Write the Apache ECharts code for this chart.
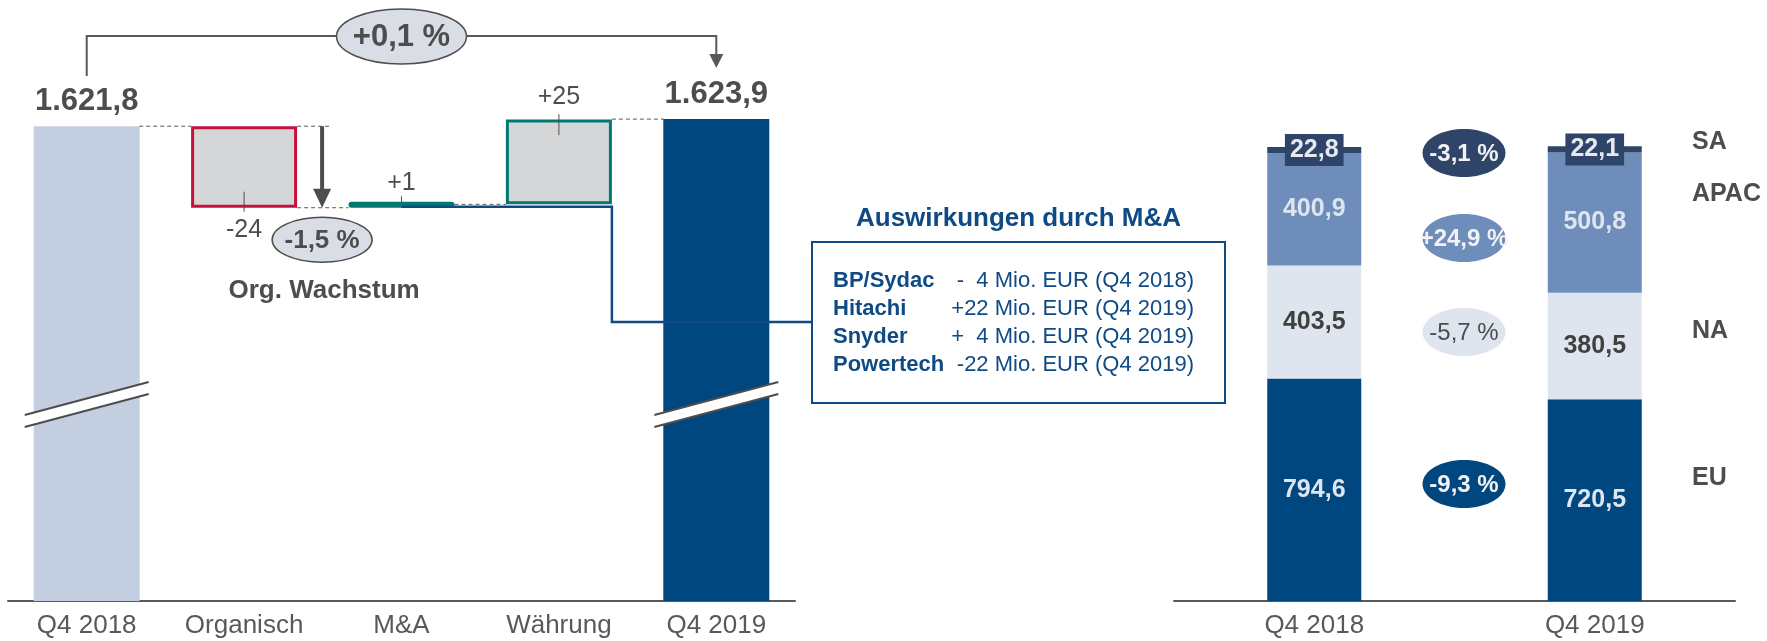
<!DOCTYPE html>
<html>
<head>
<meta charset="utf-8">
<title>Umsatz Q4 2019</title>
<script src="https://cdn.jsdelivr.net/npm/echarts@6.0.0/dist/echarts.min.js"></script>
<style>
  html, body { margin: 0; padding: 0; background: #fff; }
  #main { width: 1767px; height: 641px; }
</style>
</head>
<body>
<div id="main"></div>
<script>
// Brücke Q4 2018 -> Q4 2019 (Mio. EUR)
var bridgeCats = ['Q4 2018', 'Organisch', 'M&A', 'Währung', 'Q4 2019'];
var startValue = 1621.8;
var bridgeDeltas = [-24, 1, 25];
var endValue = 1623.9;

// Regionen
var regionCats = ['Q4 2018', 'Q4 2019'];
var euValues = [794.6, 720.5];
var naValues = [403.5, 380.5];
var apacValues = [400.9, 500.8];
var saValues = [22.8, 22.1];

// Auswirkungen durch M&A
var maNames = ['BP/Sydac', 'Hitachi', 'Snyder', 'Powertech'];
var maValues = [-4, 22, 4, -22];
var maPeriods = ['Q4 2018', 'Q4 2019', 'Q4 2019', 'Q4 2019'];

var FONT = "'Liberation Sans', Arial, sans-serif";
var GREY = '#4d4d4d';
var BLUE = '#0f4a85';

function fmtDe(v, d) {
  var s = Math.abs(v).toFixed(d).split('.');
  var i = s[0].replace(/\B(?=(\d{3})+(?!\d))/g, '.');
  return (v < 0 ? '-' : '') + i + (d ? ',' + s[1] : '');
}
function fmtPct(v) {
  return (v >= 0 ? '+' : '') + fmtDe(v, 1) + ' %';
}

// waterfall: transparent base + visible part
var bases = ['-'];
var wfVals = [startValue];
var wfLabels = [fmtDe(startValue, 1)];
var run = startValue;
bridgeDeltas.forEach(function (d) {
  bases.push(d < 0 ? run + d : run);
  wfVals.push(Math.abs(d));
  wfLabels.push((d > 0 ? '+' : '') + d);
  run += d;
});
bases.push('-');
wfVals.push(endValue);
wfLabels.push(fmtDe(endValue, 1));

var wfStyles = [
  { color: '#c3cfe0' },
  { color: '#d5d6d8', borderColor: '#c8103f', borderWidth: 3 },
  { color: '#007a6e', borderRadius: 3 },
  { color: '#d5d6d8', borderColor: '#007a6e', borderWidth: 3 },
  { color: '#00467f' }
];
var wfLabelStyles = [
  { position: 'top', distance: 9, fontSize: 31, fontWeight: 'bold' },
  { position: 'bottom', distance: 10, fontSize: 25 },
  { position: 'top', distance: 6, fontSize: 25 },
  { position: 'top', distance: 10, fontSize: 25 },
  { position: 'top', distance: 9, fontSize: 31, fontWeight: 'bold' }
];

var chart = echarts.init(document.getElementById('main'));

var xLabel = { fontSize: 26, color: '#595959', fontFamily: FONT, margin: 12 };
var axisLine = { lineStyle: { color: '#595959', width: 2 } };

function regionSeries(name, values, color, labelColor, extraLabel) {
  var label = {
    show: true, position: 'inside', color: labelColor,
    fontSize: 25, fontWeight: 'bold', fontFamily: FONT,
    formatter: function (p) { return fmtDe(p.value, 1); }
  };
  if (extraLabel) Object.assign(label, extraLabel);
  return {
    name: name, type: 'bar', stack: 'reg', xAxisIndex: 1, yAxisIndex: 1,
    barWidth: 94, data: values, itemStyle: { color: color },
    label: label, silent: true
  };
}

chart.setOption({
  animation: false,
  textStyle: { fontFamily: FONT },
  grid: [
    { left: 8, width: 787, top: 95, height: 506, outerBoundsMode: 'none' },
    { left: 1174, width: 561, top: 41, height: 560, outerBoundsMode: 'none' }
  ],
  xAxis: [
    { type: 'category', gridIndex: 0, data: bridgeCats, axisLine: axisLine,
      axisTick: { show: false }, axisLabel: xLabel },
    { type: 'category', gridIndex: 1, data: regionCats, axisLine: axisLine,
      axisTick: { show: false }, axisLabel: xLabel }
  ],
  yAxis: [
    { type: 'value', gridIndex: 0, min: 1482, max: 1631, show: false, splitLine: { show: false } },
    { type: 'value', gridIndex: 1, min: 0, max: 2000, show: false, splitLine: { show: false } }
  ],
  series: [
    {
      name: 'base', type: 'bar', stack: 'wf', barWidth: 106, clip: true,
      itemStyle: { color: 'transparent' }, data: bases, silent: true
    },
    {
      name: 'bridge', type: 'bar', stack: 'wf', barWidth: 106, barMinHeight: 6,
      clip: true, silent: true,
      data: wfVals.map(function (v, i) {
        return {
          value: v,
          itemStyle: wfStyles[i],
          label: Object.assign({
            show: true, color: GREY, fontFamily: FONT,
            formatter: function () { return wfLabels[i]; }
          }, wfLabelStyles[i])
        };
      })
    },
    regionSeries('EU', euValues, '#00467f', '#dfe5ef'),
    regionSeries('NA', naValues, '#dfe5ef', '#404040'),
    regionSeries('APAC', apacValues, '#6e8dbb', '#dfe5ef'),
    regionSeries('SA', saValues, '#2e4468', '#e6e9ef', {
      backgroundColor: '#2e4468', padding: [3, 5], lineHeight: 26
    })
  ]
});

// annotations, placed with the axes' own scale
function px(cat, val) { return chart.convertToPixel({ gridIndex: 0 }, [cat, val]); }
var cx = bridgeCats.map(function (c, i) { return px(i, startValue)[0]; });
var yStart = px(0, startValue)[1];
var yOrg = px(1, bases[1])[1];
var yMA = px(2, bases[3])[1];
var yEnd = px(4, endValue)[1];
var half = 53;
var lineGrey = '#595959';

function dash(x1, x2, y) {
  return { type: 'line', z: 10, shape: { x1: x1, y1: y, x2: x2, y2: y },
    style: { stroke: lineGrey, lineWidth: 1, lineDash: [4, 3] } };
}
function txt(x, y, s, size, color, bold, align) {
  return { type: 'text', z: 30, style: { text: s, x: x, y: y, fill: color,
    fontSize: size, fontWeight: bold ? 'bold' : 'normal', fontFamily: FONT,
    align: align || 'center', verticalAlign: 'middle' } };
}
function oval(x, y, rx, ry, fill, stroke) {
  return { type: 'ellipse', z: 20, shape: { cx: x, cy: y, rx: rx, ry: ry },
    style: { fill: fill, stroke: stroke || null, lineWidth: 1.5 } };
}
function vline(x, y1, y2, color, w) {
  return { type: 'line', z: 25, shape: { x1: x, y1: y1, x2: x, y2: y2 },
    style: { stroke: color || GREY, lineWidth: w || 1 } };
}
function breakMark(x) {
  var a = 62;
  return [
    { type: 'polygon', z: 12, shape: { points: [[x - a, 415], [x + a, 382], [x + a, 394], [x - a, 427]] },
      style: { fill: '#fff' } },
    { type: 'line', z: 13, shape: { x1: x - a, y1: 415, x2: x + a, y2: 382 }, style: { stroke: GREY, lineWidth: 2 } },
    { type: 'line', z: 13, shape: { x1: x - a, y1: 427, x2: x + a, y2: 394 }, style: { stroke: GREY, lineWidth: 2 } }
  ];
}

var g = [];
// bracket with total change
var midX = (cx[0] + cx[4]) / 2;
g.push({ type: 'polyline', z: 10, shape: { points: [[cx[0], 76], [cx[0], 36], [cx[4], 36], [cx[4], 55]] },
  style: { stroke: lineGrey, lineWidth: 2, fill: null } });
g.push({ type: 'polygon', z: 10, shape: { points: [[cx[4] - 7, 54], [cx[4] + 7, 54], [cx[4], 68]] },
  style: { fill: lineGrey } });
g.push(oval(midX, 36.5, 65, 27.5, '#d9dde6', GREY));
g.push(txt(midX, 37, fmtPct((endValue / startValue - 1) * 100), 31, GREY, true));

// dashed connectors
g.push(dash(cx[0] + 52.5, cx[1] - half, yStart));
g.push(dash(cx[1] + half, cx[1] + 86, yStart));
g.push(dash(cx[1] + half, cx[2] - half, yOrg));
g.push(dash(cx[2] + half, cx[3] - half, yMA));
g.push(dash(cx[3] + half, cx[4] - 52.5, yEnd));

// organic arrow + growth
var ax = cx[1] + 78;
g.push({ type: 'rect', z: 15, shape: { x: ax - 2, y: yStart, width: 4, height: yOrg - yStart - 18 },
  style: { fill: GREY } });
g.push({ type: 'polygon', z: 15, shape: { points: [[ax - 9, yOrg - 19], [ax + 9, yOrg - 19], [ax, yOrg]] },
  style: { fill: GREY } });
g.push(oval(ax, yOrg + 32, 50, 22.5, '#d9dde6', GREY));
g.push(txt(ax, yOrg + 33, fmtPct(bridgeDeltas[0] / startValue * 100), 26, GREY, true));
g.push(txt(ax + 2, yOrg + 83, 'Org. Wachstum', 26, GREY, true));

// leader ticks
g.push(vline(cx[1], yOrg - 16, yOrg + 4));
g.push(vline(cx[2], yMA - 8, yMA - 2));
g.push(vline(cx[3], yEnd - 5, yEnd + 16));

// M&A connector to box
var bx = 812, by = 242, bw = 413, bh = 161;
g.push({ type: 'polyline', z: 18, shape: { points: [[cx[2], yOrg - 1], [cx[3] + half, yOrg - 1], [cx[3] + half, 322], [bx, 322]] },
  style: { stroke: BLUE, lineWidth: 2.5, fill: null } });
g.push({ type: 'rect', z: 18, shape: { x: bx, y: by, width: bw, height: bh },
  style: { fill: '#fff', stroke: BLUE, lineWidth: 2 } });
g.push(txt(bx + bw / 2, 219, 'Auswirkungen durch M&A', 26, BLUE, true));
maNames.forEach(function (n, i) {
  var v = maValues[i];
  var a = Math.abs(v);
  var s = (v < 0 ? '-' : '+') + (a < 10 ? '  ' + a : a) + ' Mio. EUR (' + maPeriods[i] + ')';
  var y = 281 + i * 28;
  g.push(txt(833, y, n, 22, BLUE, true, 'left'));
  g.push(txt(1194, y, s, 22, BLUE, false, 'right'));
});

// axis breaks
g = g.concat(breakMark(cx[0]), breakMark(cx[4]));

// right side: change per region
var pctX = 1464;
var pctRows = [
  { y: 153, v: saValues, fill: '#2e4468', color: '#f2f2f2', bold: true },
  { y: 238, v: apacValues, fill: '#6e8dbb', color: '#f2f2f2', bold: true },
  { y: 332, v: naValues, fill: '#dfe5ef', color: GREY, bold: false },
  { y: 484, v: euValues, fill: '#00467f', color: '#f2f2f2', bold: true }
];
pctRows.forEach(function (r) {
  g.push(oval(pctX, r.y, 41.5, 24, r.fill));
  g.push(txt(pctX, r.y + 1, fmtPct((r.v[1] / r.v[0] - 1) * 100), 24, r.color, r.bold));
});
var regionLabels = [['SA', 142], ['APAC', 194], ['NA', 331], ['EU', 478]];
regionLabels.forEach(function (r) {
  g.push(txt(1692, r[1], r[0], 25, GREY, true, 'left'));
});

chart.setOption({ graphic: g });
</script>
</body>
</html>
